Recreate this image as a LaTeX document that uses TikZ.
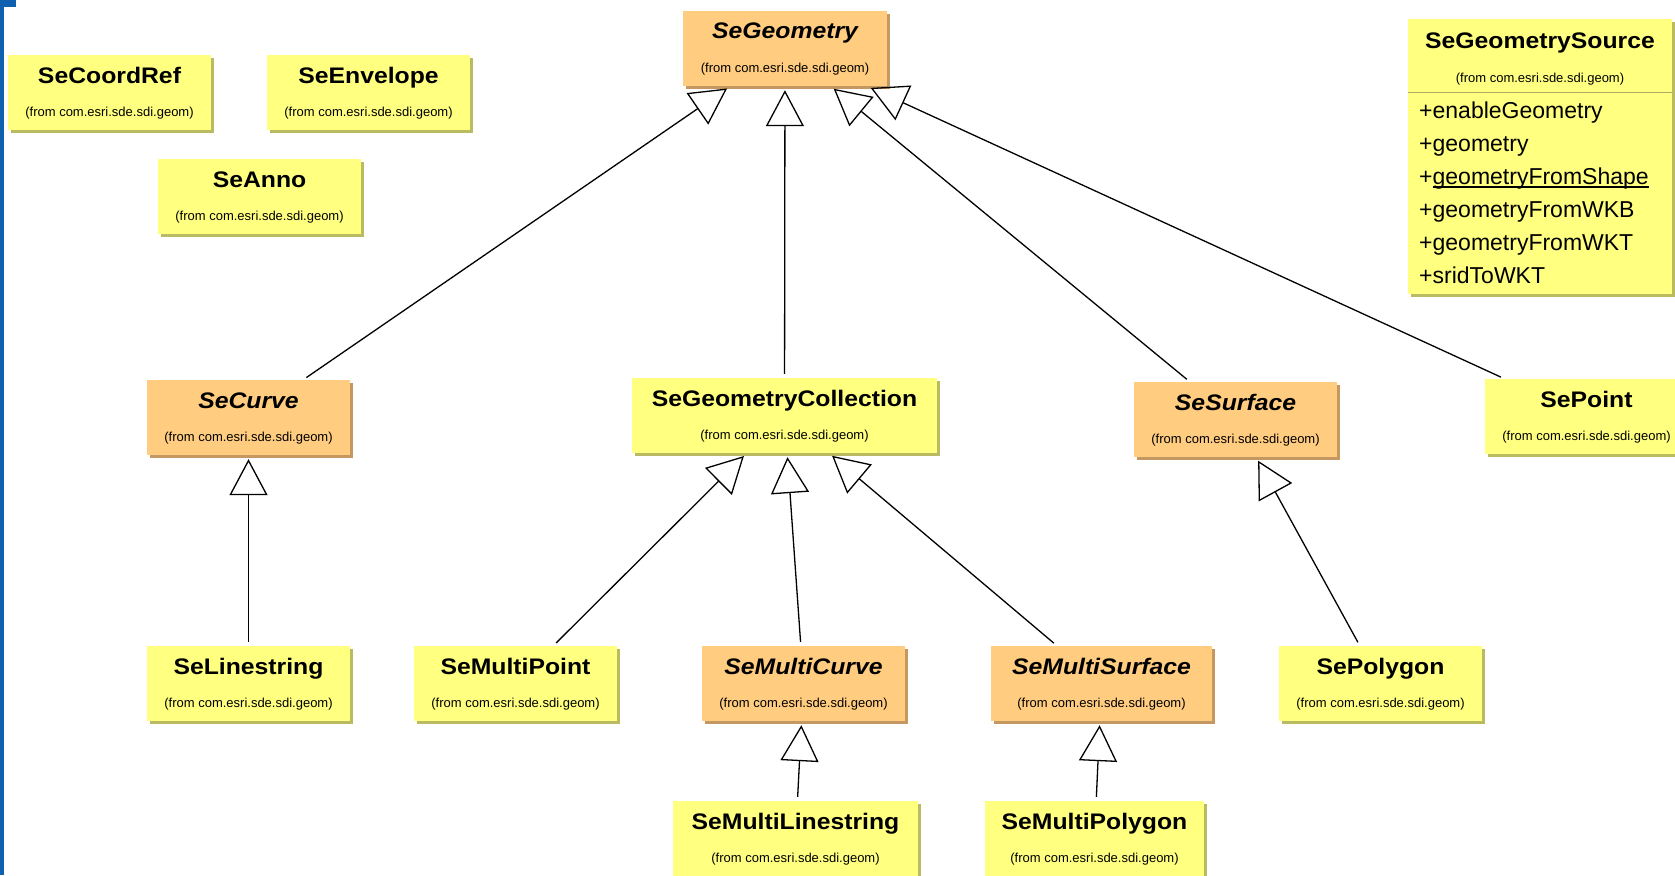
\documentclass[tikz,border=0pt]{standalone}
\usepackage{fontspec}
\setmainfont{Liberation Sans}
\newfontfamily\clsfont[FakeStretch=1.1]{Liberation Sans}
\usetikzlibrary{arrows.meta,shadows}

\definecolor{clsyellow}{RGB}{255,255,128}
\definecolor{clsyellowdark}{RGB}{186,186,96}
\definecolor{clsorange}{RGB}{255,204,128}
\definecolor{clsorangedark}{RGB}{196,152,96}
\definecolor{sepline}{RGB}{170,170,100}
\definecolor{frameblue}{RGB}{16,96,176}

\tikzset{
  concrete/.style={rectangle, fill=clsyellow, minimum height=75pt, inner sep=0pt,
    drop shadow={shadow xshift=3pt, shadow yshift=-3pt, opacity=1, fill=clsyellowdark}},
  abstract/.style={rectangle, fill=clsorange, minimum height=75pt, inner sep=0pt,
    drop shadow={shadow xshift=3pt, shadow yshift=-3pt, opacity=1, fill=clsorangedark}},
  nametxt/.style={anchor=base, inner sep=0pt, font=\clsfont\bfseries\fontsize{22.5}{27}\selectfont},
  abstracttxt/.style={anchor=base, inner sep=0pt, font=\clsfont\bfseries\itshape\fontsize{22.5}{27}\selectfont},
  fromtxt/.style={anchor=base, inner sep=0pt, font=\fontsize{13}{15}\selectfont},
  methodtxt/.style={anchor=base west, inner sep=0pt, font=\fontsize{23}{27}\selectfont},
  inherit/.style={draw=black, line width=1.3pt, shorten <=4pt, shorten >=4pt,
    -{Triangle[open, length=36pt, width=38pt]}}
}

% class box: node name, box style, name style, centre, width, class name
\newcommand{\umlclass}[6]{%
  \node[#2, minimum width=#5pt] (#1) at #4 {};
  \node[#3] (#1-name) at ([yshift=9.5pt]#1.center) {#6};
  \node[fromtxt] (#1-from) at ([yshift=-23.5pt]#1.center) {(from com.esri.sde.sdi.geom)};
}
% underlined (static) member name
\newcommand{\staticname}[1]{\setbox0\hbox{#1}\rlap{\rule[-3.5pt]{\wd0}{1.3pt}}\box0}

\begin{document}
\begin{tikzpicture}[x=1pt, y=-1pt]
\useasboundingbox (0,0) rectangle (1675,875);
\clip (0,0) rectangle (1675,875);
\fill[white] (0,0) rectangle (1675,875);

% frame edge
\fill[frameblue] (0,0) rectangle (4,875);
\fill[frameblue] (0,0) rectangle (16,7);

% unrelated classes
\umlclass{coordref}{concrete}{nametxt}{(109.5,92.5)}{203}{SeCoordRef}
\umlclass{envelope}{concrete}{nametxt}{(368.5,92.5)}{203}{SeEnvelope}
\umlclass{anno}{concrete}{nametxt}{(259.5,196.5)}{203}{SeAnno}

% root
\umlclass{geometry}{abstract}{abstracttxt}{(785,48.5)}{204}{SeGeometry}

% geometry source with operations
\node[rectangle, fill=clsyellow, minimum width=264pt, minimum height=275pt, inner sep=0pt,
  drop shadow={shadow xshift=3pt, shadow yshift=-3pt, opacity=1, fill=clsyellowdark}]
  (source) at (1540,156.5) {};
\node[nametxt] (source-name) at ([yshift=-30pt]source.north) {SeGeometrySource};
\node[fromtxt] (source-from) at ([yshift=-64pt]source.north) {(from com.esri.sde.sdi.geom)};
\draw[sepline, line width=1.3pt] ([yshift=-74pt]source.north west) -- ([yshift=-74pt]source.north east);
\node[methodtxt] (m1) at (1419,118) {+enableGeometry};
\node[methodtxt] (m2) at (1419,151) {+geometry};
\node[methodtxt] (m3) at (1419,184) {+\staticname{geometryFromShape}};
\node[methodtxt] (m4) at (1419,217) {+geometryFromWKB};
\node[methodtxt] (m5) at (1419,250) {+geometryFromWKT};
\node[methodtxt] (m6) at (1419,283) {+sridToWKT};

% second level
\umlclass{curve}{abstract}{abstracttxt}{(248.5,417.5)}{203}{SeCurve}
\umlclass{collection}{concrete}{nametxt}{(784.5,415.5)}{305}{SeGeometryCollection}
\umlclass{surface}{abstract}{abstracttxt}{(1235.5,419.5)}{203}{SeSurface}
\umlclass{point}{concrete}{nametxt}{(1586.5,416.5)}{203}{SePoint}

% third level
\umlclass{linestring}{concrete}{nametxt}{(248.5,683.5)}{203}{SeLinestring}
\umlclass{multipoint}{concrete}{nametxt}{(515.5,683.5)}{203}{SeMultiPoint}
\umlclass{multicurve}{abstract}{abstracttxt}{(803.5,683.5)}{203}{SeMultiCurve}
\umlclass{multisurface}{abstract}{abstracttxt}{(1101.5,683.5)}{221}{SeMultiSurface}
\umlclass{polygon}{concrete}{nametxt}{(1380.5,683.5)}{203}{SePolygon}

% fourth level
\umlclass{multilinestring}{concrete}{nametxt}{(795.5,838.5)}{245}{SeMultiLinestring}
\umlclass{multipolygon}{concrete}{nametxt}{(1094.5,838.5)}{219}{SeMultiPolygon}

% generalisations
\draw[inherit] (curve) -- (geometry);
\draw[inherit] (collection) -- (geometry);
\draw[inherit] (surface) -- (geometry);
\draw[inherit] (point) -- (geometry);
\draw[inherit] (linestring) -- (curve);
\draw[inherit] (multipoint) -- (collection);
\draw[inherit] (multicurve) -- (collection);
\draw[inherit] (multisurface) -- (collection);
\draw[inherit] (polygon) -- (surface);
\draw[inherit] (multilinestring) -- (multicurve);
\draw[inherit] (multipolygon) -- (multisurface);
\end{tikzpicture}
\end{document}
